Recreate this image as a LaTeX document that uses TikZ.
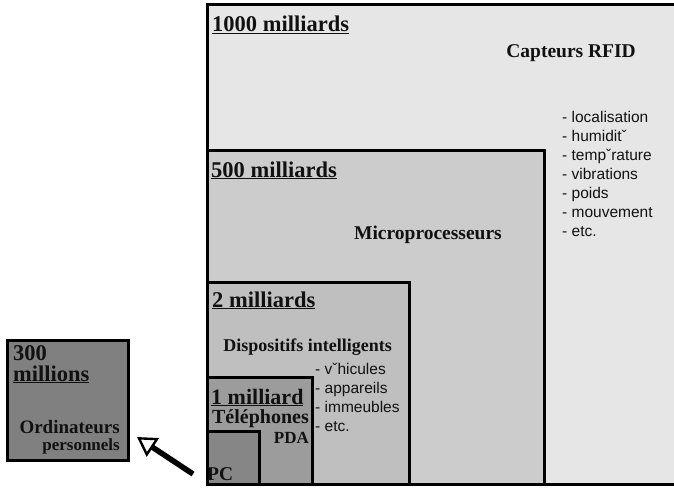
\documentclass[tikz,border=0pt]{standalone}
\usepackage{fontspec}
\setmainfont{Liberation Serif}
\setsansfont{Liberation Sans}
\usepackage{xcolor}
\usepackage{tikz}
\usetikzlibrary{arrows.meta,positioning}
\definecolor{lvrfid}{HTML}{E6E6E6}
\definecolor{lvmicro}{HTML}{CCCCCC}
\definecolor{lvdisp}{HTML}{BFBFBF}
\definecolor{lvtel}{HTML}{9C9C9C}
\definecolor{lvpc}{HTML}{868686}
\definecolor{lvordi}{HTML}{808080}
\definecolor{ink}{HTML}{111111}
\tikzset{
  level/.style={draw=black,line width=2.6pt,fill=#1,inner sep=0pt,anchor=south west},
  head/.style={font=\fontsize{22.5}{22.5}\selectfont\bfseries,text=ink,inner sep=0pt,anchor=base west},
  what/.style={font=\fontsize{19.5}{19.5}\selectfont\bfseries,text=ink,inner sep=0pt,anchor=base west},
  items/.style={font=\sffamily\fontsize{15.5}{19}\selectfont,text=ink,inner sep=0pt,anchor=north west,align=left},
  arrow/.style={-{Triangle[length=19pt,width=22pt,fill=white,line width=2.4pt]},line width=5.5pt,color=black},
}
\begin{document}
\begin{tikzpicture}[x=1pt,y=-1pt]
  \useasboundingbox (0,0) rectangle (674,487);
  \clip (0,0) rectangle (674,487);
  % nested boxes, largest first
  \node[level=lvrfid,minimum width=490,minimum height=480] (rfid) at (206,486) {};
  \node[level=lvmicro,minimum width=337,minimum height=334] (micro) at (206,486) {};
  \node[level=lvdisp,minimum width=202,minimum height=202] (disp) at (206,486) {};
  \node[level=lvtel,minimum width=105,minimum height=107] (tel) at (206,486) {};
  \node[level=lvpc,minimum width=52,minimum height=53] (pc) at (206,486) {};
  \node[level=lvordi,minimum width=121,minimum height=120] (ordi) at (6,462) {};

  \node[head] (n1000) at (212,32) {\underline{1000 milliards}};
  \node[what,anchor=base east] (rfidtxt) at (636,57) {Capteurs RFID};
  \node[items] (rfidlist) at (562,111) {- localisation\\- humiditˇ\\- tempˇrature\\- vibrations\\- poids\\- mouvement\\- etc.};

  \node[head] (n500) at (211,177) {\underline{500 milliards}};
  \node[what,anchor=base east] (microtxt) at (502,239) {Microprocesseurs};

  \node[head] (n2) at (212,307) {\underline{2 milliards}};
  \node[what,font=\fontsize{18}{18}\selectfont\bfseries,anchor=base east] (disptxt) at (392,351) {Dispositifs intelligents};
  \node[items] (displist) at (315,363) {- vˇhicules\\- appareils\\- immeubles\\- etc.};

  \node[head,font=\fontsize{22}{22}\selectfont\bfseries] (n1) at (211,404) {\underline{1 milliard}};
  \node[what,font=\fontsize{20}{20}\selectfont\bfseries,anchor=base east] (teltxt) at (309,423) {Téléphones};
  \node[what,font=\fontsize{17}{17}\selectfont\bfseries,anchor=base east] (pdatxt) at (309,443) {PDA};
  \node[what] (pctxt) at (207,480) {PC};

  \node[head] (n300) at (13,360) {300};
  \node[head] (nmil) at (13,381) {\underline{millions}};
  \node[what,font=\fontsize{19}{19}\selectfont\bfseries,anchor=base east] (orditxt) at (120,433) {Ordinateurs};
  \node[what,font=\fontsize{17}{17}\selectfont\bfseries,anchor=base east] (perstxt) at (120,450) {personnels};

  \coordinate (arrtail) at (193,474);
  \coordinate (arrtip) at (137,437);
  \draw[arrow] (arrtail) -- (arrtip);
\end{tikzpicture}
\end{document}
